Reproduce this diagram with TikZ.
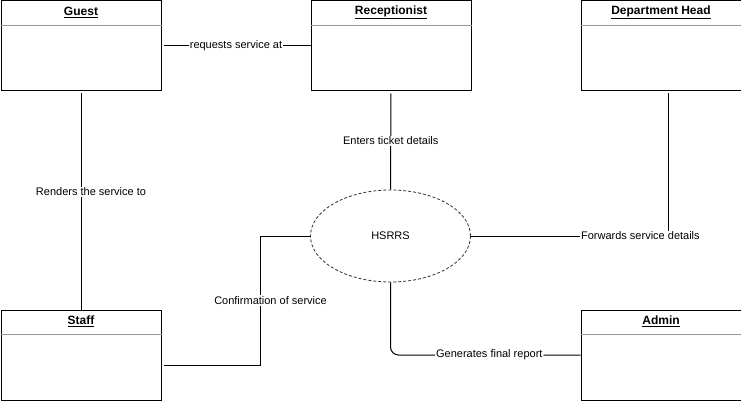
\documentclass[tikz,border=0pt]{standalone}
\usepackage{fontspec}
\setmainfont{Liberation Sans}
\usetikzlibrary{positioning,shapes.geometric}

\tikzset{
  entitybox/.style={draw, line width=1pt, minimum width=160pt, minimum height=90pt, inner sep=0pt, anchor=north west},
  entitytitle/.style={font=\fontsize{12}{14}\selectfont\bfseries, inner sep=0pt},
  link/.style={line width=1pt},
  linklabel/.style={fill=white, inner sep=1pt, font=\fontsize{11}{13}\selectfont},
}

\begin{document}
\begin{tikzpicture}
[
  x=1pt, y=-1pt,
]
\useasboundingbox (0,0) rectangle (741,401);

% entity with a header line
\def \entity(#1,#2,#3,#4) {
  \node[entitybox] (#1) at (#2,#3) {};
  \draw[line width=0.8pt, black!40] ([yshift=-25pt]#1.north west) -- ([yshift=-25pt]#1.north east);
  \node[entitytitle] at ([yshift=-12pt]#1.north) {\underline{#4}};
}

\entity(guest,0.5,0.5,Guest)
\entity(recep,310.5,0.5,Receptionist)
\entity(dept,580.5,0.5,Department Head)
\entity(staff,0.5,309.5,Staff)
\entity(admin,580.5,309.5,Admin)

\node[ellipse, draw, line width=0.8pt, black!80, dash pattern=on 3pt off 2pt,
      minimum width=160pt, minimum height=92pt, text=black,
      font=\fontsize{11}{13}\selectfont] (hsrrs) at (390.5,236) {HSRRS};

\coordinate (bend) at (260.5,236);

\draw[link, shorten <=2pt] (guest.east) -- node[linklabel] {requests service at} (recep.west);
\draw[link, shorten <=2pt] (guest.south) -- node[linklabel, pos=0.46, xshift=10pt] {Renders the service to} (staff.north);
\draw[link, shorten <=2pt] (recep.south) -- node[linklabel] {Enters ticket details} (hsrrs.north);
\draw[link, shorten <=2pt] ([xshift=7pt]dept.south) |- node[linklabel, pos=0.57] {Forwards service details} (hsrrs.east);
\draw[link, shorten <=2pt] ([yshift=-10pt]staff.east) -| node[linklabel, pos=0.75, xshift=10pt] {Confirmation of service} (bend) -- (hsrrs.west);
\draw[link, rounded corners=8pt] (hsrrs.south) |- node[linklabel, pos=0.76] {Generates final report} (admin.west);

\end{tikzpicture}
\end{document}
